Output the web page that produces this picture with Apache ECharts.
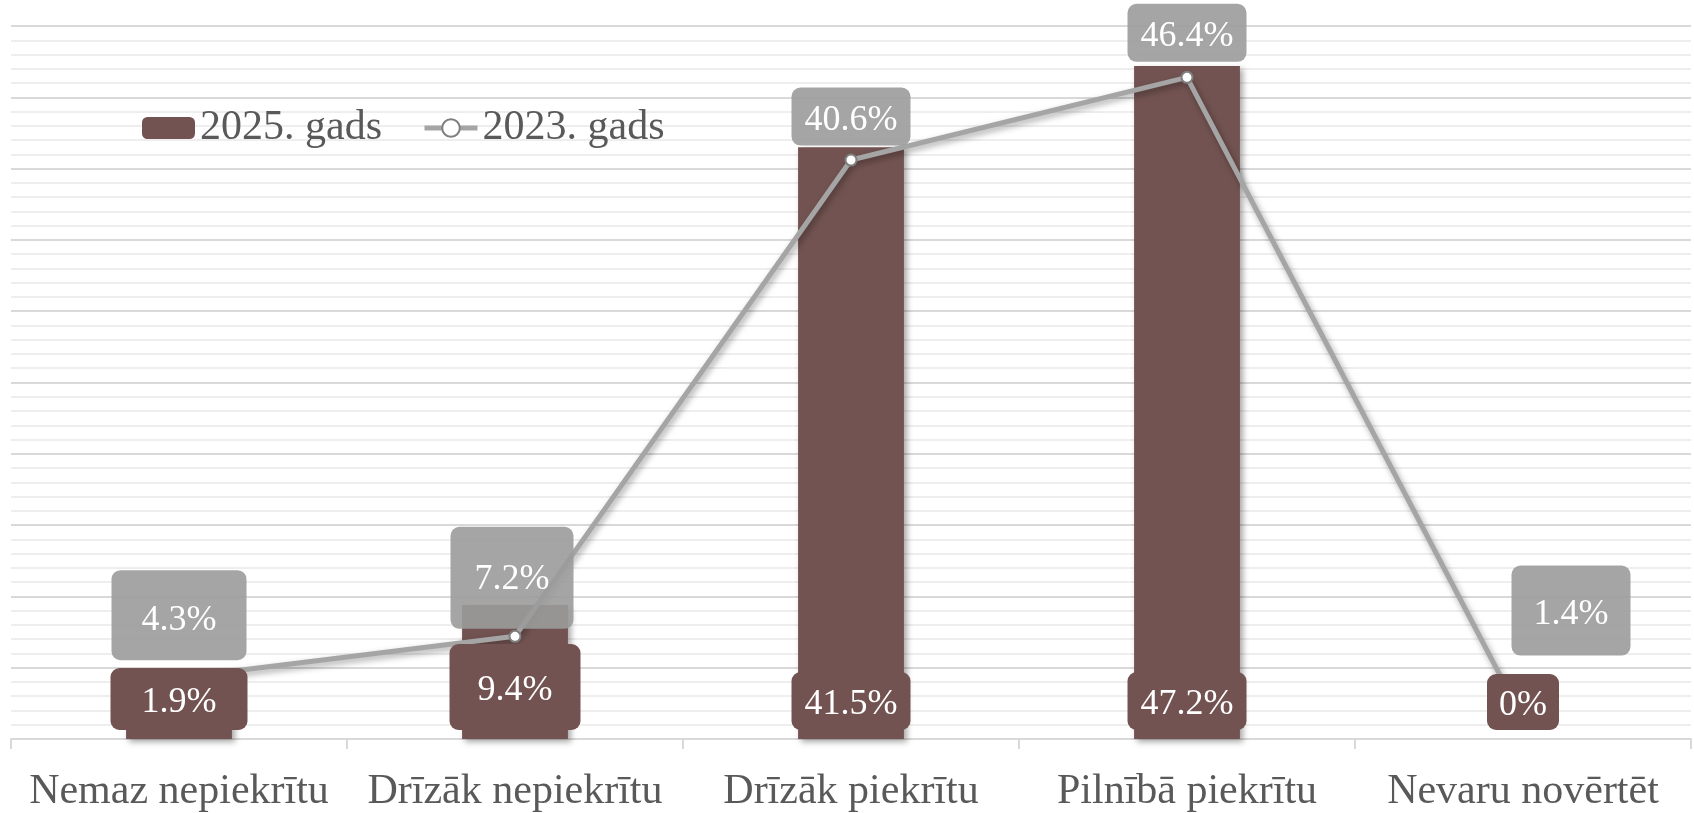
<!DOCTYPE html>
<html>
<head>
<meta charset="utf-8">
<script src="https://cdn.jsdelivr.net/npm/echarts@6/dist/echarts.min.js"></script>
<style>html,body{margin:0;padding:0;background:#fff;}#c{width:1694px;height:813px;}</style>
</head>
<body>
<div id="c"></div>
<script>
const categories = ['Nemaz nepiekrītu', 'Drīzāk nepiekrītu', 'Drīzāk piekrītu', 'Pilnībā piekrītu', 'Nevaru novērtēt'];
const values2025 = [1.9, 9.4, 41.5, 47.2, 0];
const values2023 = [4.3, 7.2, 40.6, 46.4, 1.4];
const seriesNames = ['2025. gads', '2023. gads'];

// label styling (padding [top,right,bottom,left]) and offsets, not data
const barLabelPad = [[17, 31, 9, 31], [29, 28, 21, 28], [15, 13, 7, 13], [15, 13, 7, 13], [14, 12, 6, 12]];
const lineLabelPad = [[32, 30, 22, 30], [35, 24, 31, 24], [15, 13, 7, 13], [15, 13, 7, 13], [31, 22, 23, 22]];
const lineLabelOffset = [[0, -12], [-3, -2], [0, -9], [0, -10], [48, -58]];

const FONT = '"Liberation Serif", "Times New Roman", serif';
const labelText = { fontFamily: FONT, fontSize: 36, color: '#ffffff', borderRadius: 9, opacity: 1 };
const chart = echarts.init(document.getElementById('c'));
chart.setOption({
  animation: false,
  backgroundColor: '#ffffff',
  grid: { left: 11, right: 3, top: 26, bottom: 71, containLabel: false },
  legend: {
    left: 142, top: 107, padding: 0,
    itemWidth: 53, itemHeight: 22, itemGap: 40,
    textStyle: { fontFamily: FONT, fontSize: 42, color: '#595959' },
    data: [
      { name: seriesNames[0] },
      { name: seriesNames[1], lineStyle: { width: 5, color: '#a5a5a5' }, itemStyle: { color: '#ffffff', borderColor: '#7f7f7f', borderWidth: 2 } }
    ]
  },
  xAxis: {
    type: 'category',
    data: categories,
    axisLine: { lineStyle: { color: '#d9d9d9', width: 2 } },
    axisTick: { show: true, length: 10, lineStyle: { color: '#d9d9d9', width: 2 } },
    axisLabel: { fontFamily: FONT, fontSize: 42, color: '#595959', margin: 32, interval: 0 }
  },
  yAxis: {
    type: 'value', min: 0, max: 50, interval: 5,
    axisLabel: { show: false }, axisLine: { show: false }, axisTick: { show: false },
    splitLine: { lineStyle: { color: '#d9d9d9', width: 2 } },
    minorTick: { show: false, splitNumber: 5 },
    minorSplitLine: { show: true, lineStyle: { color: '#eeeeee', width: 2 } }
  },
  series: [
    {
      name: seriesNames[0], type: 'bar', barWidth: '31.5%', barGap: '-100%',
      itemStyle: { color: '#725351', shadowColor: 'rgba(0,0,0,0.35)', shadowBlur: 6, shadowOffsetX: 3, shadowOffsetY: 3 },
      z: 2,
      data: values2025
    },
    {
      name: seriesNames[1], type: 'line',
      symbol: 'circle', symbolSize: 11,
      lineStyle: { color: '#a5a5a5', width: 5, shadowColor: 'rgba(0,0,0,0.35)', shadowBlur: 6, shadowOffsetX: 2, shadowOffsetY: 3 },
      itemStyle: { color: '#ffffff', borderColor: '#7f7f7f', borderWidth: 2 },
      z: 3,
      data: values2023
    },
    {
      // label carrier for 2025 values, drawn above the line
      name: seriesNames[0] + ' labels', type: 'bar', barWidth: '31.5%', barGap: '-100%',
      itemStyle: { color: 'rgba(0,0,0,0)', opacity: 1 },
      z: 4, silent: true,
      data: values2025.map((v, i) => ({
        value: v,
        label: Object.assign({
          show: true, position: 'insideBottom', distance: 9,
          formatter: p => p.value + '%',
          backgroundColor: '#725351',
          padding: barLabelPad[i]
        }, labelText)
      }))
    },
    {
      // label carrier for 2023 values
      name: seriesNames[1] + ' labels', type: 'scatter',
      symbol: 'circle', symbolSize: 11,
      itemStyle: { color: 'rgba(0,0,0,0)', opacity: 1 },
      z: 5, silent: true,
      data: values2023.map((v, i) => ({
        value: v,
        label: Object.assign({
          show: true, position: 'top', distance: 0,
          offset: lineLabelOffset[i],
          formatter: p => p.value + '%',
          backgroundColor: 'rgba(155,155,155,0.9)',
          padding: lineLabelPad[i]
        }, labelText)
      }))
    }
  ]
});
</script>
</body>
</html>
